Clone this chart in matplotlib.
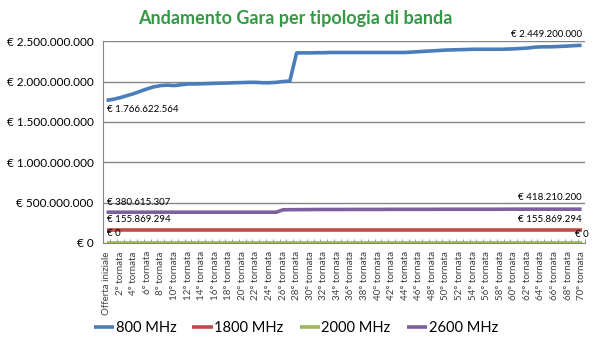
import matplotlib
matplotlib.use("Agg")
import matplotlib.pyplot as plt
from matplotlib.ticker import FuncFormatter, MultipleLocator
import numpy as np

plt.rcParams['font.family'] = ['Lato', 'DejaVu Sans']

# categories: initial offer + 70 rounds
rounds = ["Offerta iniziale"] + ["%d° tornata" % i for i in range(1, 71)]

# values in euro
mhz800 = [
    1766622564, 1780000000, 1800000000, 1825000000, 1850000000, 1880000000,
    1910000000, 1935000000, 1950000000, 1955000000, 1950000000, 1960000000,
    1970000000, 1970000000, 1972000000, 1975000000, 1978000000, 1980000000,
    1982000000, 1985000000, 1987000000, 1990000000, 1990000000, 1985000000,
    1985000000, 1990000000, 2000000000, 2005000000, 2355000000, 2355000000,
    2355000000, 2357000000, 2357000000, 2360000000, 2360000000, 2360000000,
    2360000000, 2360000000, 2360000000, 2360000000, 2360000000, 2360000000,
    2360000000, 2360000000, 2360000000, 2365000000, 2370000000, 2375000000,
    2380000000, 2385000000, 2390000000, 2392000000, 2395000000, 2397000000,
    2400000000, 2400000000, 2400000000, 2400000000, 2400000000, 2402000000,
    2405000000, 2410000000, 2415000000, 2425000000, 2430000000, 2430000000,
    2432000000, 2436000000, 2440000000, 2445000000, 2449200000,
]
mhz1800 = [155869294] * 71
mhz2000 = [0] * 71
mhz2600 = [380615307] * 26 + [
    410000000, 412000000, 412000000, 413000000, 413000000, 414000000,
    414000000, 414000000, 414000000, 414000000, 415000000, 415000000,
    415000000, 415000000, 415000000, 415000000, 416000000, 416000000,
    416000000, 416000000, 416000000, 416000000, 416000000, 417000000,
    417000000, 417000000, 417000000, 417000000, 417000000, 417000000,
    417000000, 417000000, 417000000, 418000000, 418000000, 418000000,
    418000000, 418000000, 418000000, 418000000, 418000000, 418000000,
    418000000, 418000000, 418210200,
]

series = [
    ("800 MHz", mhz800, "#4A7EBB"),
    ("1800 MHz", mhz1800, "#BE4B48"),
    ("2000 MHz", mhz2000, "#98B954"),
    ("2600 MHz", mhz2600, "#7D60A0"),
]


def euro(v, pos=None):
    return "€ " + "{:,.0f}".format(v).replace(",", ".")


fig = plt.figure(figsize=(6, 3.49), dpi=100)
ax = fig.add_axes([0.172, 0.304, 0.803, 0.578])

x = np.arange(len(rounds))
for name, vals, col in series:
    ax.plot(x, vals, color=col, lw=2.6, label=name, solid_capstyle='butt', zorder=3)

ax.set_xlim(-0.5, len(rounds) - 0.5)
ax.set_ylim(0, 2.5e9)
ax.yaxis.set_major_locator(MultipleLocator(5e8))
ax.yaxis.set_major_formatter(FuncFormatter(euro))
ax.grid(axis='y', color='#868686', lw=1)
ax.set_axisbelow(True)

ax.set_xticks(x[::2])
ax.set_xticklabels(rounds[::2], rotation=90, fontsize=7, color='#404040')
ax.set_xticks(np.arange(-0.5, len(rounds), 1), minor=True)
ax.tick_params(axis='x', which='major', length=0, pad=6)
ax.tick_params(axis='x', which='minor', length=3, direction='in', color='#868686')
ax.tick_params(axis='y', length=0, labelsize=8.5, pad=7, labelcolor='#000000')

for s in ['top', 'right']:
    ax.spines[s].set_visible(False)
ax.spines['left'].set_color('#868686')
ax.spines['bottom'].set_color('#868686')

# data labels at first and last point
lbl = dict(fontsize=7, color='#000000', zorder=4)
ax.text(0, mhz800[0] - 0.06e9, euro(mhz800[0]), ha='left', va='top', **lbl)
ax.text(70, mhz800[-1] + 0.08e9, euro(mhz800[-1]), ha='right', va='bottom', **lbl)
ax.text(0, mhz2600[0] + 0.12e9, euro(mhz2600[0]), ha='left', va='center', **lbl)
ax.text(70, mhz2600[-1] + 0.15e9, euro(mhz2600[-1]), ha='right', va='center', **lbl)
ax.text(0, mhz1800[0] + 0.13e9, euro(mhz1800[0]), ha='left', va='center', **lbl)
ax.text(70, mhz1800[-1] + 0.13e9, euro(mhz1800[-1]), ha='right', va='center', **lbl)
ax.text(0, mhz2000[0] + 0.12e9, euro(0), ha='left', va='center', **lbl)
ax.text(71, mhz2000[-1] + 0.11e9, euro(0), ha='right', va='center', **lbl)

fig.text(0.492, 0.948, "Andamento Gara per tipologia di banda", ha='center', va='center',
         fontsize=13, fontweight='bold', color='#339944')

fig.legend(loc='center', bbox_to_anchor=(0.493, 0.06), ncol=4, frameon=False,
           fontsize=10.5, handlelength=1.4, handletextpad=0.1, columnspacing=1.1)

fig.savefig("out.png", dpi=100)
